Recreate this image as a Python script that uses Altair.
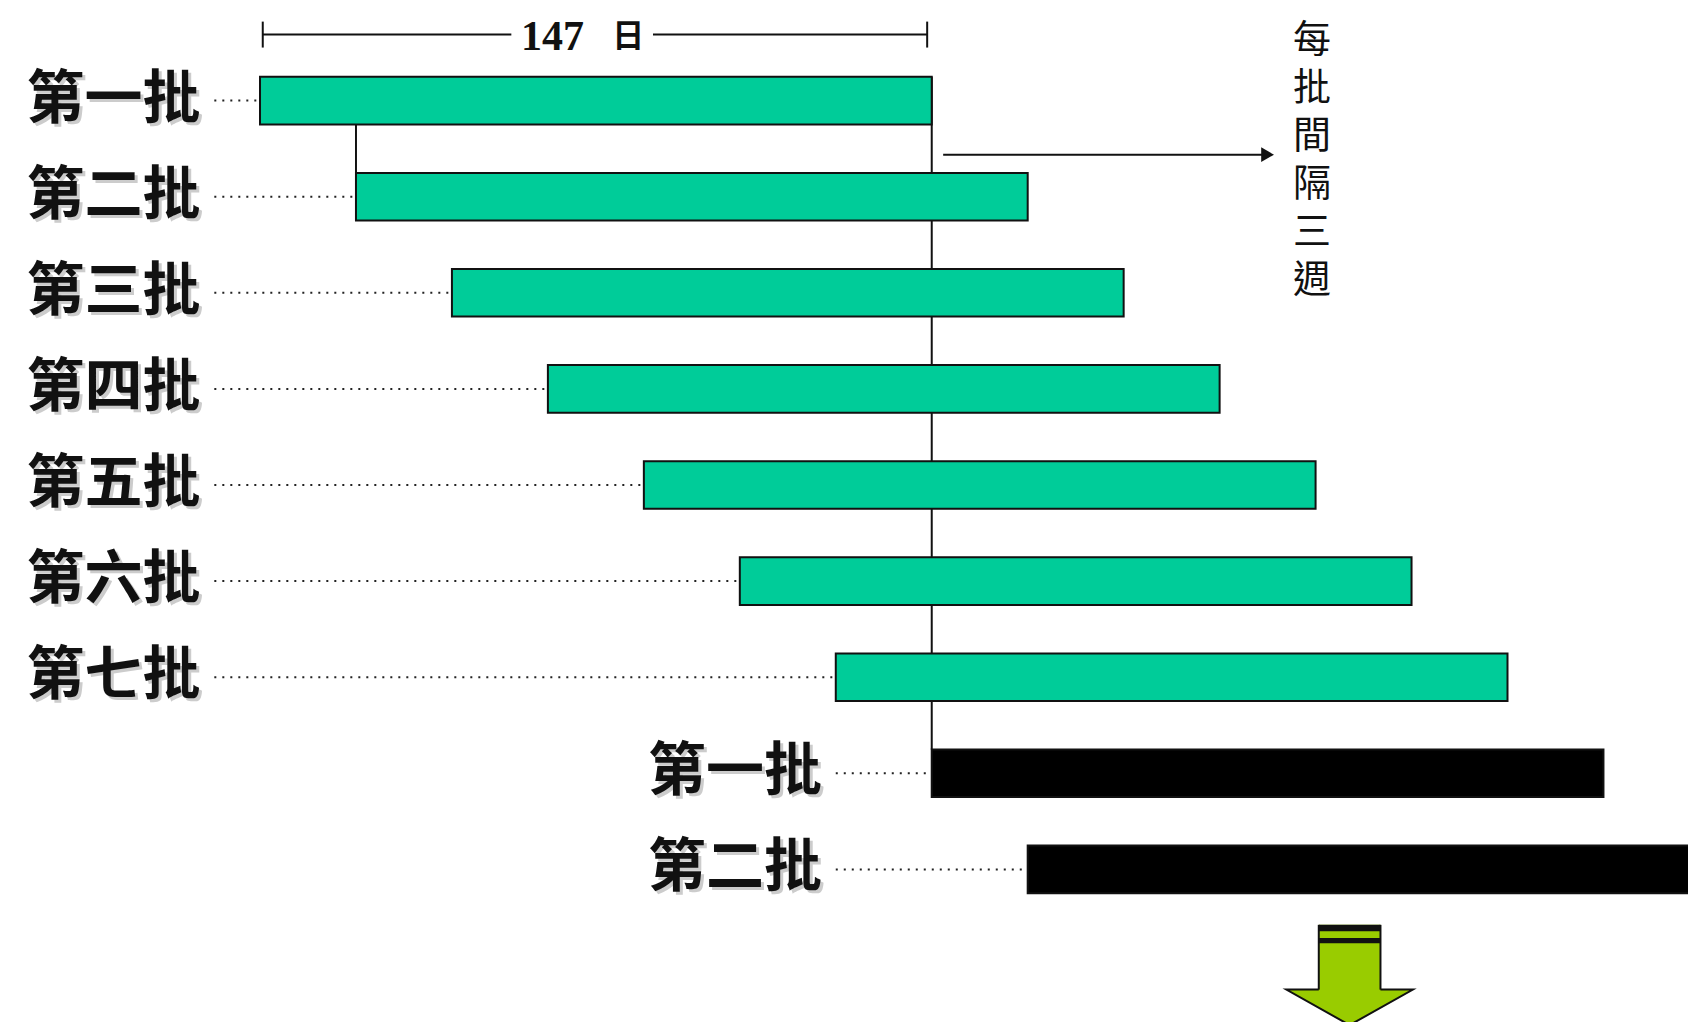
import altair as alt
import pandas as pd

# ---- data ----
green_labels = ["第一批", "第二批", "第三批", "第四批", "第五批", "第六批", "第七批"]
green_start = [0, 21, 42, 63, 84, 105, 126]
black_labels = ["第一批", "第二批"]
black_start = [147, 168]
duration = 147
span_number = "147"
span_unit = "日"
interval_text = "每批間隔三週"

# annotation anchors (in day / row units)
green_label_day = -13
black_label_day = 123
bar_half = 0.2475

rows = []
for i, (lab, s) in enumerate(zip(green_labels, green_start)):
    rows.append(dict(label=lab, start=s, end=s + duration, row=i, kind="new",
                     label_x=green_label_day))
for j, (lab, s) in enumerate(zip(black_labels, black_start)):
    rows.append(dict(label=lab, start=s, end=s + duration, row=len(green_labels) + j,
                     kind="old", label_x=black_label_day))
df = pd.DataFrame(rows)
df["y0"] = df["row"] - bar_half
df["y1"] = df["row"] + bar_half
df["lead_x"] = df["label_x"] + 3

X = alt.Scale(domain=[-55.15, 312.5], nice=False, zero=False)
Y = alt.Scale(domain=[-0.9636, 9.588], reverse=True, nice=False, zero=False)

def xq(f):
    return alt.X(f, type="quantitative", scale=X, axis=None)

def yq(f):
    return alt.Y(f, type="quantitative", scale=Y, axis=None)

base = alt.Chart(df)

bars = base.mark_rect(stroke="#111111", strokeWidth=2, clip=True).encode(
    x=xq("start"), x2="end", y=yq("y0"), y2="y1",
    color=alt.Color("kind:N", scale=alt.Scale(domain=["new", "old"],
                                              range=["#00CC99", "#000000"]), legend=None),
)

leaders = base.mark_rule(strokeDash=[2, 6], strokeWidth=2, color="#222222").encode(
    x=xq("lead_x"), x2="start", y=yq("row")
)

label_shadow = base.mark_text(align="right", baseline="middle", font="Noto Sans CJK TC",
                              fontSize=58, fontWeight="bold", color="#9a9a9a",
                              opacity=0.5, dx=3, dy=3).encode(
    x=xq("label_x"), y=yq("row"), text="label:N")
labels = base.mark_text(align="right", baseline="middle", font="Noto Sans CJK TC",
                        fontSize=58, fontWeight="bold", color="#111111").encode(
    x=xq("label_x"), y=yq("row"), text="label:N")

# connector lines
n_green = len(green_labels)
conn = pd.DataFrame([
    dict(x=green_start[0] + duration, y=0 - bar_half, y2=n_green - bar_half),
    dict(x=green_start[1], y=0 + bar_half, y2=1 - bar_half),
])
connectors = alt.Chart(conn).mark_rule(color="#111111", strokeWidth=2).encode(
    x=xq("x"), y=yq("y"), y2="y2")

# top span ruler
ruler_y = -0.687
ruler = pd.DataFrame([
    dict(x=0.6, x2=55.0, y=ruler_y),
    dict(x=86.0, x2=146.0, y=ruler_y),
])
ruler_lines = alt.Chart(ruler).mark_rule(color="#111111", strokeWidth=2).encode(
    x=xq("x"), x2="x2", y=yq("y"))
ticks = pd.DataFrame([
    dict(x=0.6, y=ruler_y - 0.135, y2=ruler_y + 0.135),
    dict(x=146.0, y=ruler_y - 0.135, y2=ruler_y + 0.135),
])
ruler_ticks = alt.Chart(ticks).mark_rule(color="#111111", strokeWidth=2).encode(
    x=xq("x"), y=yq("y"), y2="y2")
span_txt = pd.DataFrame([dict(x=64.0, y=ruler_y, t=span_number)])
span_num = alt.Chart(span_txt).mark_text(font="Liberation Serif", fontWeight="bold",
                                         fontSize=42, baseline="middle", align="center",
                                         color="#111111", dy=2).encode(
    x=xq("x"), y=yq("y"), text="t:N")
unit_txt = pd.DataFrame([dict(x=80.6, y=ruler_y, t=span_unit)])
span_unit_mark = alt.Chart(unit_txt).mark_text(font="Noto Sans CJK TC", fontWeight="bold",
                                               fontSize=32, baseline="middle", align="center",
                                               color="#111111", dy=2).encode(
    x=xq("x"), y=yq("y"), text="t:N")

# interval arrow
arrow_y = 0.563
arr = pd.DataFrame([dict(x=149.5, x2=219.5, y=arrow_y)])
arrow_line = alt.Chart(arr).mark_rule(color="#111111", strokeWidth=2).encode(
    x=xq("x"), x2="x2", y=yq("y"))
arrow_head = alt.Chart(pd.DataFrame([dict(x=220.5, y=arrow_y)])).mark_point(
    shape="triangle-right", filled=True, color="#111111", size=220, opacity=1).encode(
    x=xq("x"), y=yq("y"))

# vertical caption, one character per line
v_first = -0.62
v_step = 0.4995
vchars = pd.DataFrame([dict(x=230.2, y=v_first + k * v_step, t=c)
                       for k, c in enumerate(interval_text)])
vtext = alt.Chart(vchars).mark_text(
    font="Noto Sans CJK TC", fontSize=38, baseline="middle", align="center",
    color="#111111").encode(x=xq("x"), y=yq("y"), text="t:N")

# down arrow
head = pd.DataFrame([
    dict(x=224.6, top=9.251, bot=9.251),
    dict(x=238.45, top=9.251, bot=9.62),
    dict(x=252.3, top=9.251, bot=9.251),
])
arrow_head_down = alt.Chart(head).mark_area(color="#99CC00", stroke="#111111",
                                            strokeWidth=2, clip=True).encode(
    x=xq("x"), y=yq("top"), y2="bot")
shaft = alt.Chart(pd.DataFrame([dict(x=231.7, x2=245.2, y=8.577, y2=9.27)])).mark_rect(
    color="#99CC00").encode(x=xq("x"), x2="x2", y=yq("y"), y2="y2")
shaft_sides = alt.Chart(pd.DataFrame([
    dict(x=231.7, y=8.577, y2=9.251),
    dict(x=245.2, y=8.577, y2=9.251),
])).mark_rule(color="#111111", strokeWidth=2).encode(x=xq("x"), y=yq("y"), y2="y2")
stripes = alt.Chart(pd.DataFrame([
    dict(x=231.7, x2=245.2, y=8.577, y2=8.643),
    dict(x=231.7, x2=245.2, y=8.713, y2=8.769),
])).mark_rect(color="#111111").encode(x=xq("x"), x2="x2", y=yq("y"), y2="y2")

chart = alt.layer(
    leaders, connectors, bars, label_shadow, labels,
    ruler_lines, ruler_ticks, span_num, span_unit_mark,
    arrow_line, arrow_head, vtext,
    arrow_head_down, shaft, shaft_sides, stripes,
).properties(
    width=1680, height=1014, padding=0, autosize="none", background="white"
).configure_view(stroke=None)

chart.save("out.html", embed_options={"renderer": "svg", "actions": False})
